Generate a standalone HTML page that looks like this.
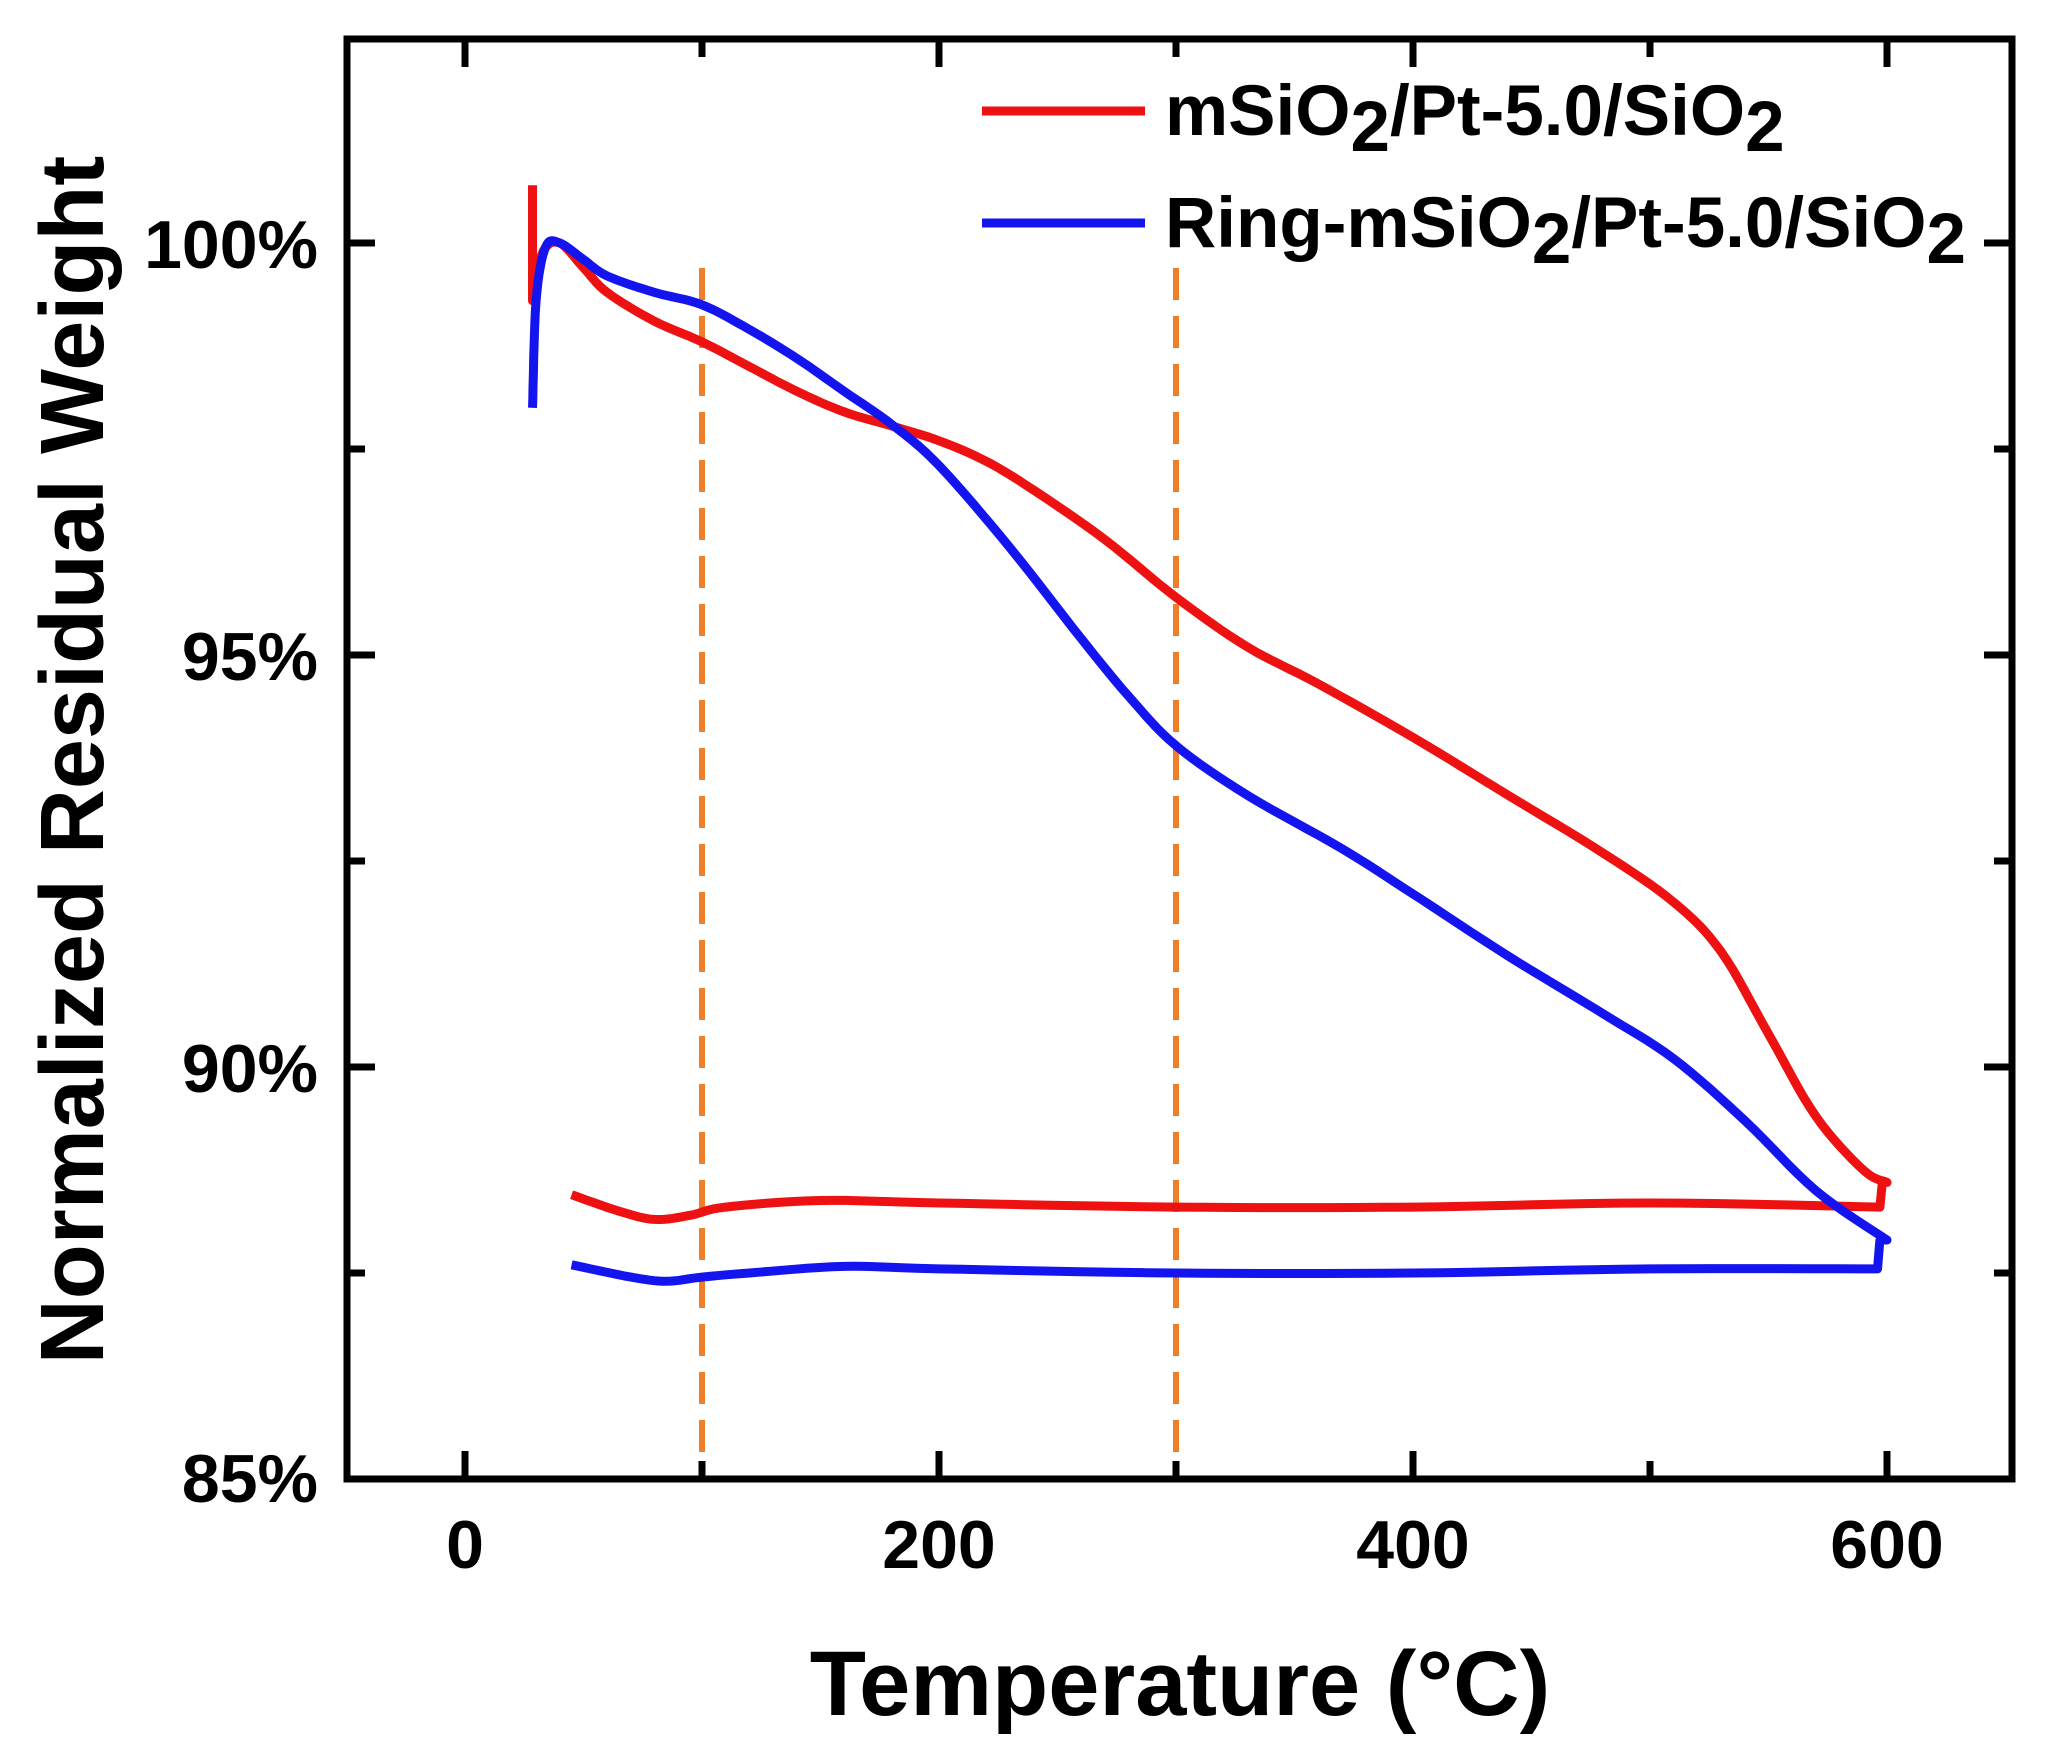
<!DOCTYPE html>
<html><head><meta charset="utf-8"><style>
html,body{margin:0;padding:0;background:#fff}
svg{display:block}
text{font-family:"Liberation Sans",Arial,sans-serif;font-weight:bold;fill:#000}
</style></head><body>
<svg id="s" width="2049" height="1751" viewBox="0 0 2049 1751" xmlns="http://www.w3.org/2000/svg">
<g stroke="#f07f2a" stroke-width="6" stroke-dasharray="32,16">
<line x1="702" y1="268" x2="702" y2="1479"/>
<line x1="1176" y1="268" x2="1176" y2="1479"/>
</g>
<path id="red" fill="none" stroke="#ee1111" stroke-width="9" stroke-linejoin="round"/>
<path id="blue" fill="none" stroke="#1414ee" stroke-width="9" stroke-linejoin="round"/>
<rect x="347" y="39" width="1665" height="1440" fill="none" stroke="#000" stroke-width="7"/>
<g id="ticks" stroke="#000" stroke-width="7"></g>
<g font-size="68" text-anchor="end">
<text x="318" y="268">100%</text>
<text x="318" y="680">95%</text>
<text x="318" y="1092">90%</text>
<text x="318" y="1502">85%</text>
</g>
<g font-size="68" text-anchor="middle">
<text x="465" y="1568">0</text>
<text x="939" y="1568">200</text>
<text x="1413" y="1568">400</text>
<text x="1887" y="1568">600</text>
</g>
<text x="1180" y="1715" font-size="92" text-anchor="middle">Temperature (°C)</text>
<text transform="translate(103,760) rotate(-90)" font-size="90" text-anchor="middle">Normalized Residual Weight</text>
<line x1="982" y1="111" x2="1145" y2="111" stroke="#ee1111" stroke-width="9"/>
<line x1="982" y1="223" x2="1145" y2="223" stroke="#1414ee" stroke-width="9"/>
<text x="1165" y="135" font-size="71">mSiO<tspan dy="16">2</tspan><tspan dy="-16">/Pt-5.0/SiO</tspan><tspan dy="16">2</tspan></text>
<text x="1165" y="247" font-size="71">Ring-mSiO<tspan dy="16">2</tspan><tspan dy="-16">/Pt-5.0/SiO</tspan><tspan dy="16">2</tspan></text>
</svg>
<script>
function X(t){return 465+t*2.37}
function Y(v){return 1479-(v-85)*82.4}
function path(pts){return pts.map((p,i)=>(i?'L':'M')+X(p[0]).toFixed(1)+','+Y(p[1]).toFixed(1)).join(' ')}
function smooth(k){var out=[];for(var i=0;i<k.length-1;i++){var a=k[i],b=k[i+1],p0=k[i-1]||a,p3=k[i+2]||b;for(var j=0;j<8;j++){var t=j/8,t2=t*t,t3=t2*t;var f=(q)=>0.5*((2*a[q])+(-p0[q]+b[q])*t+(2*p0[q]-5*a[q]+4*b[q]-p3[q])*t2+(-p0[q]+3*a[q]-3*b[q]+p3[q])*t3);out.push([f(0),f(1)]);}}out.push(k[k.length-1]);return out}
var red=[[28.5,100.7],[28.5,99.3]].concat(smooth([[29,99.4],[33,99.9],[40,100],[50,99.7],[60,99.4],[80,99.05],[100,98.8],[120,98.5],[140,98.2],[160,97.95],[180,97.78],[200,97.6],[220,97.35],[240,97.0],[270,96.4],[300,95.7],[330,95.1],[360,94.65],[400,94.0],[440,93.3],[480,92.6],[510,92.0],[530,91.4],[550,90.4],[570,89.4],[590,88.75],[600,88.6]])).concat([[598,88.6],[597,88.3]]).concat(smooth([[597,88.3],[500,88.35],[400,88.3],[300,88.3],[200,88.35],[150,88.38],[110,88.3],[95,88.2],[80,88.15],[65,88.25],[45,88.45]]));
var blue=[[28.5,98.0]].concat(smooth([[28.5,98.0],[30,99.3],[34,99.95],[40,100],[50,99.8],[60,99.6],[80,99.4],[100,99.25],[120,98.95],[140,98.6],[160,98.2],[180,97.8],[200,97.3],[230,96.3],[260,95.2],[280,94.5],[300,93.9],[330,93.3],[370,92.65],[400,92.1],[440,91.35],[480,90.65],[510,90.1],[540,89.35],[570,88.5],[600,87.9]])).concat([[597,87.9],[596,87.55]]).concat(smooth([[596,87.55],[500,87.55],[400,87.5],[300,87.5],[200,87.55],[160,87.58],[120,87.5],[100,87.45],[85,87.4],[70,87.45],[45,87.6]]));
document.getElementById('red').setAttribute('d',path(red));
document.getElementById('blue').setAttribute('d',path(blue));
var g=document.getElementById('ticks'),h='';
for(var t=0;t<=600;t+=100){var x=X(t),L=(t%200==0)?28:18;h+='<line x1="'+x+'" y1="1479" x2="'+x+'" y2="'+(1479-L)+'"/><line x1="'+x+'" y1="39" x2="'+x+'" y2="'+(39+L)+'"/>';}
for(var v=85;v<=102.5;v+=2.5){var y=Y(v),L=(v%5==0)?28:18;if(y<39)continue;h+='<line x1="347" y1="'+y+'" x2="'+(347+L)+'" y2="'+y+'"/><line x1="2012" y1="'+y+'" x2="'+(2012-L)+'" y2="'+y+'"/>';}
g.innerHTML=h;
</script>
</body></html>
